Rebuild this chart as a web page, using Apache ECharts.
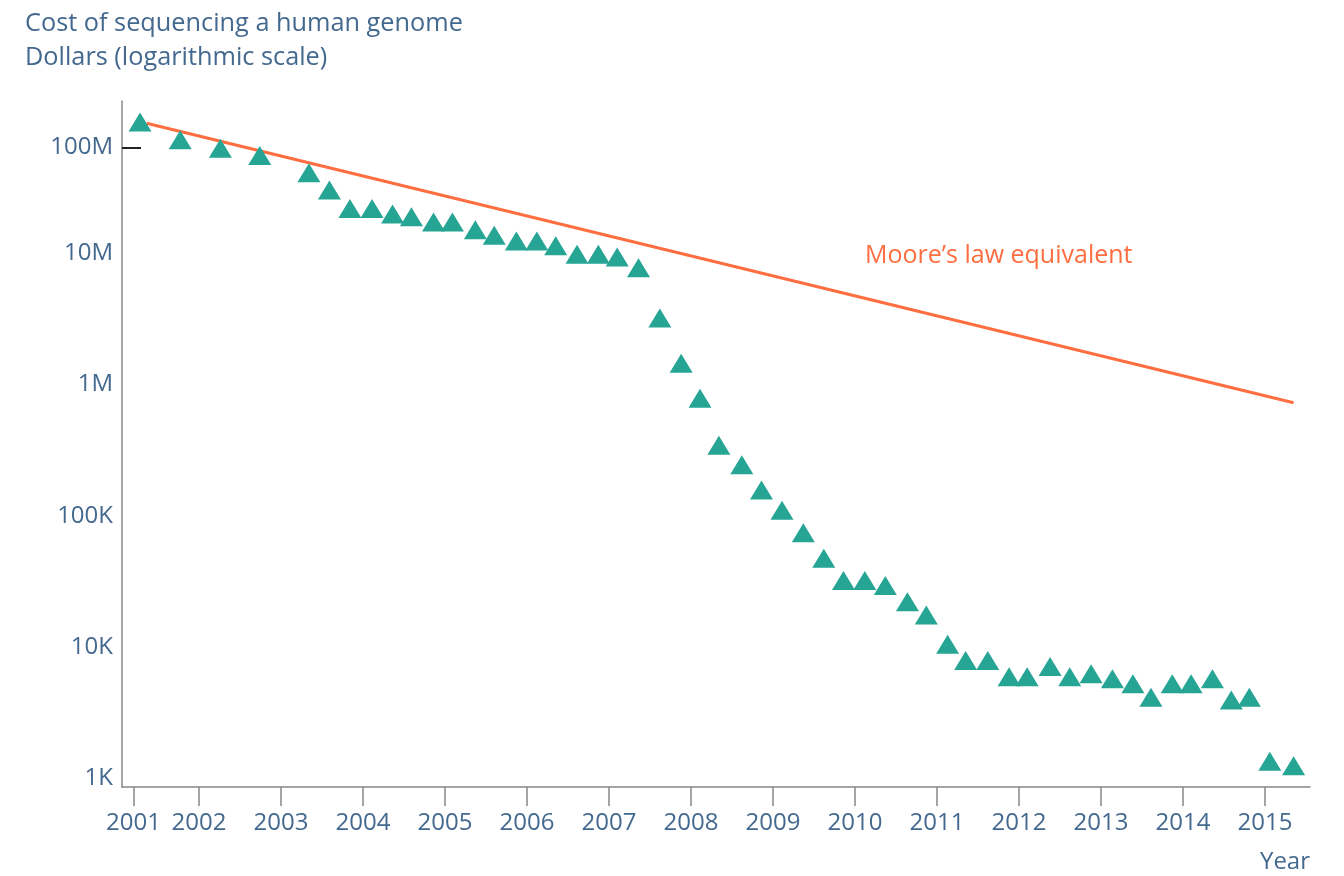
<!DOCTYPE html>
<html>
<head>
<meta charset="utf-8">
<title>Cost of sequencing a human genome</title>
<script src="https://cdn.jsdelivr.net/npm/echarts@6/dist/echarts.min.js"></script>
<style>
  html, body { margin: 0; padding: 0; background: #fff; }
  #chart { width: 1344px; height: 876px; }
</style>
</head>
<body>
<div id="chart"></div>
<script>
// quarterly readings, x in decimal years as plotted
const years = [
  2001.28, 2001.77, 2002.26, 2002.74, 2003.34, 2003.59, 2003.84, 2004.11, 2004.36, 2004.59,
  2004.86, 2005.09, 2005.37, 2005.60, 2005.87, 2006.12, 2006.35, 2006.61, 2006.87, 2007.10,
  2007.36, 2007.62, 2007.88, 2008.11, 2008.34, 2008.62, 2008.86, 2009.11, 2009.37, 2009.62,
  2009.86, 2010.12, 2010.37, 2010.64, 2010.87, 2011.13, 2011.35, 2011.62, 2011.88, 2012.10,
  2012.38, 2012.62, 2012.88, 2013.14, 2013.39, 2013.61, 2013.87, 2014.10, 2014.36, 2014.59,
  2014.81, 2015.06, 2015.35
];
const cost = [
  100000000, 73300000, 63200000, 55600000, 41000000, 30300000, 21900000, 21900000, 19900000, 19000000,
  17300000, 17300000, 15100000, 13700000, 12400000, 12400000, 11400000, 9840000, 9840000, 9370000,
  7770000, 3210000, 1450000, 787000, 345000, 245000, 157000, 110000, 74200, 47500,
  32100, 32100, 29400, 22100, 17500, 10500, 7910, 7910, 5930, 5930,
  7110, 5930, 6250, 5730, 5250, 4140, 5250, 5250, 5740, 3950,
  4140, 1350, 1245
];
const mooreYears = [2001.36, 2015.35];
const mooreCost = [97800000, 727000];

const xTickValues = [2001.2, 2002, 2003, 2004, 2005, 2006, 2007, 2008, 2009, 2010, 2011, 2012, 2013, 2014, 2015];
const yTickValues = [1e3, 1e4, 1e5, 1e6, 1e7, 6.4e7];
const yTickLabels = ['1K', '10K', '100K', '1M', '10M', '100M'];

const textColor = '#44698f';
const font = '"Open Sans", "Noto Sans", sans-serif';

const chart = echarts.init(document.getElementById('chart'));
chart.setOption({
  animation: false,
  backgroundColor: '#fff',
  title: [
    {
      text: 'Cost of sequencing a human genome\nDollars (logarithmic scale)',
      left: 25,
      top: 7,
      padding: 0,
      textStyle: { color: textColor, fontFamily: font, fontSize: 25.3, fontWeight: 'normal', lineHeight: 34 }
    },
    {
      text: 'Moore\u2019s law equivalent',
      left: 865,
      top: 242,
      padding: 0,
      textStyle: { color: '#ff6e40', fontFamily: font, fontSize: 25, fontWeight: 'normal', lineHeight: 28 }
    },
    {
      text: 'Year',
      right: 34,
      top: 848,
      padding: 0,
      textStyle: { color: textColor, fontFamily: font, fontSize: 24, fontWeight: 'normal', lineHeight: 28 }
    }
  ],
  grid: { left: 122, right: 34, top: 101, bottom: 89 },
  xAxis: {
    type: 'value',
    min: 2001.06,
    max: 2015.55,
    splitLine: { show: false },
    axisLine: { lineStyle: { color: '#888', width: 1.5 } },
    axisTick: {
      customValues: xTickValues,
      length: 19,
      lineStyle: { color: '#888', width: 1.5 }
    },
    axisLabel: {
      customValues: xTickValues,
      margin: 24,
      color: textColor,
      fontFamily: font,
      fontSize: 24,
      formatter: v => String(Math.round(v))
    }
  },
  yAxis: {
    type: 'log',
    logBase: 10,
    min: 858,
    max: 144600000,
    splitLine: { show: false },
    axisLine: { show: true, lineStyle: { color: '#888', width: 1.5 } },
    axisTick: {
      show: true,
      customValues: [6.4e7],
      inside: true,
      length: 19,
      lineStyle: { color: '#222', width: 2 }
    },
    axisLabel: {
      customValues: yTickValues,
      margin: 9,
      color: textColor,
      fontFamily: font,
      fontSize: 24,
      formatter: v => {
        let best = 0;
        yTickValues.forEach((t, i) => {
          if (Math.abs(Math.log10(t) - Math.log10(v)) < Math.abs(Math.log10(yTickValues[best]) - Math.log10(v))) best = i;
        });
        return yTickLabels[best];
      }
    }
  },
  series: [
    {
      name: 'Moore',
      type: 'line',
      data: mooreYears.map((x, i) => [x, mooreCost[i]]),
      showSymbol: false,
      lineStyle: { color: '#ff6e40', width: 3 },
      z: 2
    },
    {
      name: 'Cost',
      type: 'scatter',
      data: years.map((x, i) => [x, cost[i]]),
      symbol: 'triangle',
      symbolSize: [23, 19],
      itemStyle: { color: '#26a594', opacity: 1 },
      z: 3
    }
  ]
});
</script>
</body>
</html>
